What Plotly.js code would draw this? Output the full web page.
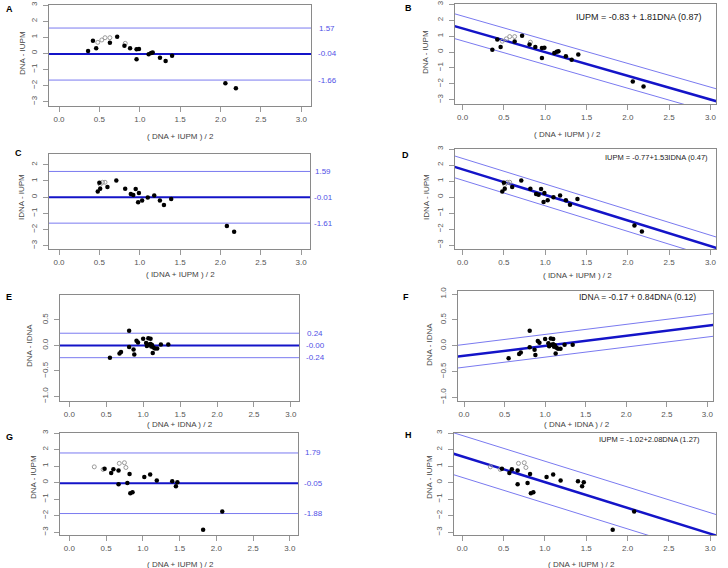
<!DOCTYPE html>
<html>
<head>
<meta charset="utf-8">
<script src="https://cdn.plot.ly/plotly-3.0.1.min.js"></script>
<style>
  html, body { margin: 0; padding: 0; background: #fff; }
  #chart { width: 728px; height: 568px; }
</style>
</head>
<body>
<div id="chart"></div>
<script>
// Bland-Altman style panels A-H: DNA / IDNA / IUPM comparisons.
// Values.

// A, B: DNA vs IUPM
const abMean = [0.36, 0.42, 0.46, 0.63, 0.72, 0.81, 0.88, 0.96, 0.99, 0.96, 1.11, 1.14, 1.16, 1.25, 1.32, 1.40, 2.06, 2.19];
const abDiff = [0.14, 0.78, 0.31, 0.66, 1.03, 0.47, 0.31, 0.25, 0.27, -0.37, -0.06, 0.02, 0.05, -0.27, -0.48, -0.15, -1.86, -2.17];
const abOpenMean = [0.48, 0.53, 0.57, 0.63, 0.82];
const abOpenDiff = [0.68, 0.83, 0.97, 0.97, 0.62];

// C, D: IDNA vs IUPM
const cdMean = [0.48, 0.51, 0.50, 0.60, 0.71, 0.82, 0.89, 0.92, 0.95, 0.99, 0.98, 1.03, 1.10, 1.18, 1.25, 1.30, 1.39, 2.08, 2.17];
const cdDiff = [0.35, 0.52, 0.89, 0.62, 1.03, 0.52, 0.19, 0.14, 0.50, 0.25, -0.31, -0.21, -0.02, 0.10, -0.21, -0.48, -0.12, -1.78, -2.15];
const cdOpenMean = [0.51, 0.54, 0.57];
const cdOpenDiff = [0.78, 0.92, 0.92];

// E, F: DNA vs IDNA
const efMean = [0.55, 0.68, 0.70, 0.81, 0.81, 0.87, 0.88, 0.91, 0.93, 1.00, 1.04, 1.07, 1.10, 1.05, 1.08, 1.10, 1.11, 1.12, 1.13, 1.14, 1.16, 1.19, 1.24, 1.34];
const efDiff = [-0.24, -0.16, -0.13, 0.29, -0.03, -0.08, -0.18, 0.09, 0.06, 0.13, 0.05, 0.14, 0.13, -0.01, 0.02, 0.03, -0.02, 0.01, -0.15, -0.04, -0.06, -0.06, 0.02, 0.02];

// G, H: DNA vs IUPM (second set)
const ghMean = [0.48, 0.57, 0.60, 0.67, 0.67, 0.79, 0.82, 0.83, 0.86, 1.02, 1.10, 1.19, 1.40, 1.45, 1.47, 1.82, 2.08];
const ghDiff = [0.83, 0.57, 0.81, 0.73, -0.10, -0.03, 0.51, -0.65, -0.59, 0.34, 0.48, 0.12, 0.08, -0.22, 0.02, -2.86, -1.76];
const ghOpenMean = [0.34, 0.46, 0.68, 0.75, 0.77];
const ghOpenDiff = [0.95, 0.79, 1.16, 1.20, 0.91];

// limits of agreement: upper, mean, lower
const loaA = [1.57, -0.04, -1.66];
const loaC = [1.59, -0.01, -1.61];
const loaE = [0.24, -0.00, -0.24];
const loaG = [1.79, -0.05, -1.88];

// regression lines: intercept, slope, band half-width
const regB = [1.48, -1.49, 0.78];
const regD = [1.73, -1.60, 0.68];
const regF = [-0.196, 0.195, 0.22];
const regH = [1.58, -1.56, 1.27];

const eqB = 'IUPM = -0.83 + 1.81DNA (0.87)';
const eqD = 'IUPM = -0.77+1.53IDNA (0.47)';
const eqF = 'IDNA = -0.17 + 0.84DNA (0.12)';
const eqH = 'IUPM = -1.02+2.08DNA (1.27)';

const W = 728, H = 568;
const FONT = 'Arial, "Liberation Sans", sans-serif';
const DARK = '#1414c8';
const LIGHT = '#7a7af0';
const LABEL = '#5050e6';

// pixel boxes [left, top, right, bottom], axis ranges
const panels = [
  { id: 'A', box: [49, 5, 311, 106],   xr: [-0.124, 3.12], yr: [-3.27, 3.0] },
  { id: 'B', box: [455, 4, 716, 104],  xr: [-0.092, 3.067], yr: [-3.27, 3.02] },
  { id: 'C', box: [49, 154, 310, 249], xr: [-0.124, 3.11], yr: [-3.21, 2.67] },
  { id: 'D', box: [455, 149, 716, 249], xr: [-0.092, 3.067], yr: [-3.25, 3.0] },
  { id: 'E', box: [60, 295, 299, 401], xr: [-0.126, 3.11], yr: [-1.09, 0.99] },
  { id: 'F', box: [458, 291, 713, 401], xr: [-0.074, 3.07], yr: [-1.07, 1.06] },
  { id: 'G', box: [60, 433, 298, 535], xr: [-0.126, 3.11], yr: [-3.18, 3.0] },
  { id: 'H', box: [454, 433, 716, 535], xr: [-0.1, 3.07], yr: [-3.18, 3.0] },
];

const layout = {
  width: W, height: H,
  margin: { l: 0, r: 0, t: 0, b: 0 },
  paper_bgcolor: '#fff', plot_bgcolor: '#fff',
  showlegend: false,
  font: { family: FONT, size: 8, color: '#555' },
  annotations: [],
};

const traces = [];

panels.forEach((p, i) => {
  const n = i + 1;
  const [l, t, r, b] = p.box;
  const small = p.id === 'E' || p.id === 'F';
  layout['xaxis' + n] = {
    domain: [l / W, r / W], range: p.xr, anchor: 'y' + n,
    tickvals: [0, 0.5, 1, 1.5, 2, 2.5, 3], tickformat: '.1f',
    ticks: 'outside', ticklen: 5, tickcolor: '#999',
    showgrid: false, zeroline: false, showline: true, mirror: true,
    linecolor: '#8a8a8a', linewidth: 1,
    tickfont: { size: 8, color: '#555' },
  };
  layout['yaxis' + n] = {
    domain: [1 - b / H, 1 - t / H], range: p.yr, anchor: 'x' + n,
    tickvals: small ? [-1, -0.5, 0, 0.5, 1] : [-3, -2, -1, 0, 1, 2, 3],
    tickformat: small ? '.1f' : 'd', tickangle: -90,
    ticks: 'outside', ticklen: 5, tickcolor: '#999', ticklabelstandoff: 3,
    showgrid: false, zeroline: false, showline: true, mirror: true,
    linecolor: '#8a8a8a', linewidth: 1,
    tickfont: { size: 8, color: '#555' },
  };
});

const ax = (id) => {
  const n = panels.findIndex((p) => p.id === id) + 1;
  return { xaxis: 'x' + n, yaxis: 'y' + n };
};

function points(id, xs, ys, open) {
  traces.push(Object.assign({
    x: xs, y: ys, mode: 'markers', type: 'scatter', hoverinfo: 'skip',
    marker: open
      ? { symbol: 'circle-open', size: 4, color: '#9a9a9a', line: { width: 1, color: '#9a9a9a' } }
      : { symbol: 'circle', size: 4.5, color: '#000' },
  }, ax(id)));
}

function hlines(id, loa) {
  const xr = panels.find((p) => p.id === id).xr;
  loa.forEach((v, k) => {
    traces.push(Object.assign({
      x: [xr[0], xr[1]], y: [v, v], mode: 'lines', type: 'scatter', hoverinfo: 'skip',
      line: k === 1 ? { color: DARK, width: 2 } : { color: LIGHT, width: 1 },
    }, ax(id)));
  });
}

function regLines(id, reg) {
  const xs = [-0.5, 3.5];
  [reg[2], 0, -reg[2]].forEach((off, k) => {
    traces.push(Object.assign({
      x: xs, y: xs.map((x) => reg[0] + reg[1] * x + off),
      mode: 'lines', type: 'scatter', hoverinfo: 'skip', cliponaxis: true,
      line: k === 1 ? { color: DARK, width: 2.5 } : { color: LIGHT, width: 1 },
    }, ax(id)));
  });
}

hlines('A', loaA); regLines('B', regB);
hlines('C', loaC); regLines('D', regD);
hlines('E', loaE); regLines('F', regF);
hlines('G', loaG); regLines('H', regH);

points('A', abOpenMean, abOpenDiff, true); points('A', abMean, abDiff, false);
points('B', abOpenMean, abOpenDiff, true); points('B', abMean, abDiff, false);
points('C', cdOpenMean, cdOpenDiff, true); points('C', cdMean, cdDiff, false);
points('D', cdOpenMean, cdOpenDiff, true); points('D', cdMean, cdDiff, false);
points('E', efMean, efDiff, false);
points('F', efMean, efDiff, false);
points('G', ghOpenMean, ghOpenDiff, true); points('G', ghMean, ghDiff, false);
points('H', ghOpenMean, ghOpenDiff, true); points('H', ghMean, ghDiff, false);

// text helpers in pixel space
function txt(text, x, y, opts) {
  layout.annotations.push(Object.assign({
    text: text, x: x / W, y: 1 - y / H, xref: 'paper', yref: 'paper',
    showarrow: false, xanchor: 'center', yanchor: 'middle',
    font: { family: FONT, size: 8, color: '#444' },
  }, opts || {}));
}

// panel letters
[['A', 4, 9], ['B', 403, 8], ['C', 13, 153], ['D', 400, 155],
 ['E', 4, 297], ['F', 401, 297], ['G', 4, 437], ['H', 403, 435]].forEach(([t, x, y]) =>
  txt('<b>' + t + '</b>', x, y, { xanchor: 'left', font: { family: FONT, size: 9, color: '#000' } }));

// axis titles
[['DNA - IUPM', 22, 53], ['DNA - IUPM', 426, 52], ['IDNA - IUPM', 21, 197], ['IDNA - IUPM', 426, 197],
 ['DNA - IDNA', 29, 345], ['DNA - IDNA', 429, 345], ['DNA - IUPM', 33, 477], ['DNA - IUPM', 429, 477]]
  .forEach(([t, x, y]) => txt(t, x, y, { textangle: -90 }));
[['( DNA + IUPM ) / 2', 180, 137], ['( DNA + IUPM ) / 2', 567, 135],
 ['( IDNA + IUPM ) / 2', 180, 274], ['( IDNA + IUPM ) / 2', 577, 275],
 ['( DNA + IDNA ) / 2', 180, 424], ['( DNA + IDNA ) / 2', 577, 424],
 ['( DNA + IUPM ) / 2', 180, 564], ['( DNA + IUPM ) / 2', 581, 564]]
  .forEach(([t, x, y]) => txt(t, x, y));

// limit-of-agreement labels beside left panels
function loaLabels(id, loa, cx) {
  const n = panels.findIndex((p) => p.id === id) + 1;
  loa.forEach((v) => {
    layout.annotations.push({
      text: v.toFixed(2).replace(/^0\.00$/, '-0.00'), x: cx / W, xref: 'paper', y: v, yref: 'y' + n,
      showarrow: false, xanchor: 'center', yanchor: 'middle',
      font: { family: FONT, size: 8, color: LABEL },
    });
  });
}
loaLabels('A', loaA, 327);
loaLabels('C', loaC, 323);
loaLabels('E', loaE, 315);
loaLabels('G', loaG, 313);

// regression equations
txt(eqB, 639, 17, { font: { family: FONT, size: 9, color: '#222' } });
txt(eqD, 656, 158, { font: { family: FONT, size: 7.5, color: '#222' } });
txt(eqF, 637, 297, { font: { family: FONT, size: 8.5, color: '#222' } });
txt(eqH, 649, 439, { font: { family: FONT, size: 7.5, color: '#222' } });

Plotly.newPlot('chart', traces, layout, { displayModeBar: false, staticPlot: true });
</script>
</body>
</html>
